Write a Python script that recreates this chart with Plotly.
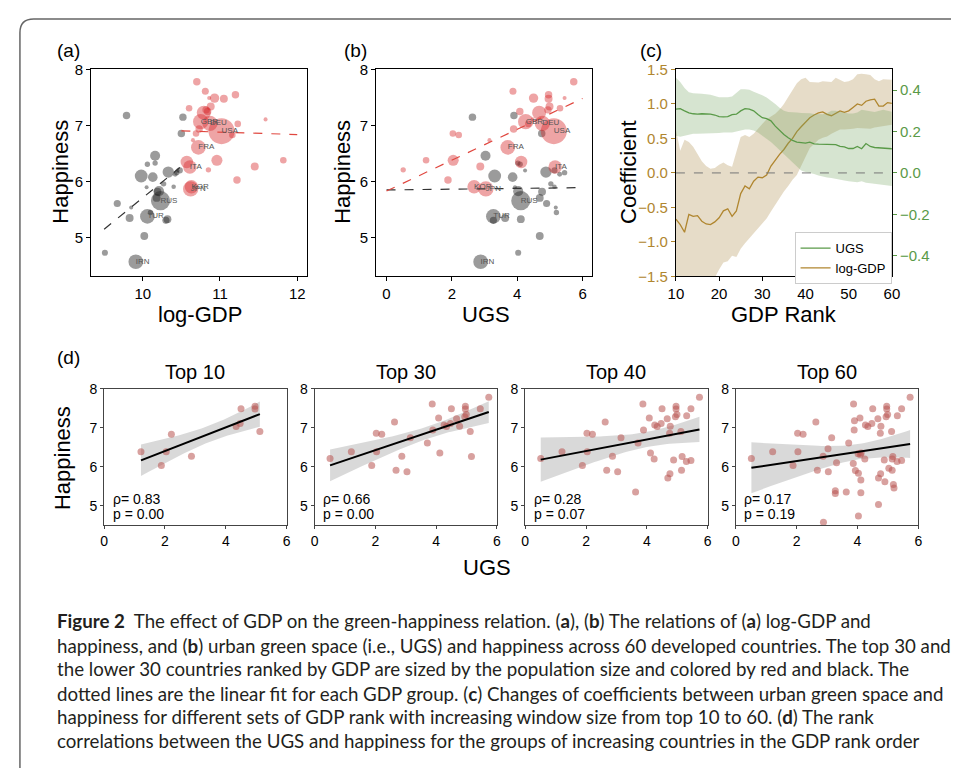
import numpy as np
import plotly.graph_objects as go

# The page adds an 8px body margin, so the figure is drawn 16px smaller and offset by 8px.
PAGE_W, PAGE_H = 959, 776
OFF = 8
W, H = PAGE_W - 2 * OFF, PAGE_H - 2 * OFF

# ---------------- data: 60 countries listed in GDP-rank order ----------------
ugs = [1.21, 4.47, 2.87, 4.34, 1.88, 4.96, 2.21, 4.96, 5.12, 2.04, 4.50,
       4.99, 4.77, 5.45, 0.51, 4.08, 4.94, 3.87, 4.67, 4.26, 3.89, 3.71, 5.73, 2.03, 3.15,
       2.68, 3.04, 5.16, 4.12, 2.63,
       5.31, 4.75, 3.63, 4.24, 4.69, 4.76, 4.88, 5.14, 5.30, 5.45,
       2.88, 3.03, 3.27, 3.27, 3.31, 3.86, 3.90, 3.93, 4.03, 4.03, 4.09, 4.11, 4.11, 4.69,
       4.90, 5.03, 5.14, 5.18, 5.20, 4.02]
happiness = [6.38, 7.11, 6.27, 7.03, 6.03, 7.55, 6.83, 7.48, 6.90, 6.38, 7.49,
             7.34, 7.04, 7.49, 6.21, 7.25, 7.28, 7.61, 7.23, 7.07, 6.94, 6.61, 7.78, 6.86, 6.74,
             5.91, 5.87, 6.26, 6.35, 7.15,
             7.31, 6.86, 5.35, 6.20, 5.71, 5.82, 6.17, 5.91, 6.13, 6.16,
             4.57, 6.46, 5.38, 5.31, 6.10, 6.08, 7.18, 5.90, 5.83, 4.73, 6.31, 5.66, 5.33, 5.03,
             5.61, 5.96, 6.20, 5.54, 5.45, 6.33]
log_gdp = [11.82, 11.59, 11.45, 11.23, 11.22, 11.20, 11.16, 11.05, 11.02, 10.96, 10.93,
           10.88, 10.87, 10.86, 10.85, 10.84, 10.82, 10.81, 10.79, 10.75, 10.73, 10.72, 10.70, 10.69, 10.65,
           10.63, 10.62, 10.61, 10.57, 10.52,
           10.60, 10.50, 9.83, 10.45, 10.18, 10.19, 10.33, 10.40, 10.42, 10.44,
           9.91, 10.16, 10.06, 10.30, 9.98, 10.13, 9.79, 10.05, 10.21, 9.51, 10.06, 10.23, 10.32, 10.02,
           9.67, 10.27, 10.48, 9.85, 10.10, 10.16]
population = [21, 8, 31, 21, 27, 27, 21, 31, 330, 60, 43,
              31, 115, 8, 14, 27, 27, 24, 96, 115, 27, 105, 27, 21, 8,
              88, 115, 88, 75, 27,
              21, 27, 31, 6, 30, 30, 63, 10, 12, 14,
              105, 49, 105, 25, 80, 45, 27, 6, 50, 18, 14, 180, 30, 30,
              25, 14, 18, 6, 14, 14]
group = (["top"] * 29 + ["low"] + ["top"] + ["low"] * 29)
code = [""] * 60
for i, c in {8: "USA", 12: "DEU", 19: "GBR", 21: "FRA", 25: "KOR", 26: "JPN",
             27: "ITA", 40: "IRN", 42: "TUR", 51: "RUS"}.items():
    code[i] = c

# ---------------- panel (c): coefficients vs window size ----------------
gdp_rank = list(range(10, 61))
coef_gdp = [-0.67, -0.75, -0.86, -0.60, -0.63, -0.62, -0.70, -0.74, -0.75, -0.71,
            -0.65, -0.55, -0.52, -0.63, -0.55, -0.30, -0.19, -0.23, -0.12, -0.06,
            -0.07, -0.03, 0.10, 0.19, 0.27, 0.34, 0.43, 0.50, 0.60, 0.67,
            0.74, 0.80, 0.84, 0.87, 0.885, 0.85, 0.83, 0.86, 0.90, 0.88,
            0.90, 0.95, 1.00, 0.98, 1.04, 1.06, 1.07, 0.97, 0.97, 1.02, 1.01]
coef_gdp_hi = [0.63, 0.32, 0.48, 0.45, 0.38, 0.27, 0.17, 0.10, 0.06, 0.07,
               0.12, 0.15, 0.11, 0.09, 0.30, 0.52, 0.55, 0.52, 0.57, 0.64,
               0.72, 0.78, 0.82, 0.86, 0.92, 1.00, 1.10, 1.20, 1.30, 1.36,
               1.38, 1.32, 1.32, 1.31, 1.33, 1.32, 1.32, 1.38, 1.35, 1.32,
               1.33, 1.36, 1.43, 1.44, 1.43, 1.42, 1.36, 1.33, 1.36, 1.36, 1.35]
coef_gdp_lo = [-2.0, -2.0, -2.0, -2.0, -2.0, -2.0, -2.0, -2.0, -1.75, -1.52,
               -1.40, -1.30, -1.28, -1.20, -1.22, -1.10, -1.02, -0.95, -0.88, -0.80,
               -0.74, -0.66, -0.56, -0.46, -0.36, -0.27, -0.19, -0.10, -0.03, 0.10,
               0.24, 0.36, 0.42, 0.48, 0.51, 0.53, 0.57, 0.60, 0.63, 0.63,
               0.63, 0.64, 0.65, 0.65, 0.64, 0.64, 0.66, 0.67, 0.68, 0.69, 0.70]
coef_ugs = [0.308, 0.311, 0.300, 0.290, 0.286, 0.284, 0.286, 0.286, 0.284, 0.280,
            0.272, 0.271, 0.272, 0.282, 0.284, 0.300, 0.311, 0.308, 0.300, 0.282,
            0.267, 0.262, 0.252, 0.226, 0.204, 0.186, 0.170, 0.157, 0.149, 0.146,
            0.144, 0.149, 0.140, 0.139, 0.139, 0.139, 0.139, 0.137, 0.128, 0.126,
            0.118, 0.118, 0.128, 0.117, 0.142, 0.128, 0.123, 0.121, 0.119, 0.117, 0.117]
coef_ugs_hi = [0.46, 0.44, 0.41, 0.39, 0.385, 0.385, 0.383, 0.38, 0.378, 0.372,
               0.366, 0.366, 0.366, 0.37, 0.39, 0.405, 0.405, 0.402, 0.392, 0.385,
               0.375, 0.365, 0.35, 0.333, 0.315, 0.30, 0.295, 0.292, 0.292, 0.29,
               0.29, 0.288, 0.285, 0.284, 0.284, 0.29, 0.30, 0.30, 0.296, 0.29,
               0.287, 0.287, 0.292, 0.305, 0.303, 0.298, 0.295, 0.30, 0.305, 0.30, 0.296]
coef_ugs_lo = [0.18, 0.175, 0.18, 0.185, 0.19, 0.19, 0.19, 0.19, 0.19, 0.192,
               0.193, 0.195, 0.195, 0.196, 0.20, 0.205, 0.21, 0.21, 0.205, 0.195,
               0.18, 0.165, 0.15, 0.13, 0.11, 0.09, 0.07, 0.05, 0.03, 0.012,
               0.004, 0.0, -0.005, -0.012, -0.018, -0.022, -0.025, -0.03, -0.033, -0.037,
               -0.04, -0.042, -0.045, -0.04, -0.047, -0.05, -0.052, -0.055, -0.058, -0.06, -0.063]

# ---------------- panel (d) ----------------
d_titles = ["Top 10", "Top 30", "Top 40", "Top 60"]
d_counts = [11, 30, 40, 60]
d_rho = ["0.83", "0.66", "0.28", "0.17"]
d_p = ["0.00", "0.00", "0.07", "0.19"]
t_crit = {9: 2.262, 28: 2.048, 38: 2.024, 58: 2.002}

caption_lines = [
    "<b>Figure 2</b>  The effect of GDP on the green-happiness relation. (<b>a</b>), (<b>b</b>) The relations of (<b>a</b>) log-GDP and",
    "happiness, and (<b>b</b>) urban green space (i.e., UGS) and happiness across 60 developed countries. The top 30 and",
    "the lower 30 countries ranked by GDP are sized by the population size and colored by red and black. The",
    "dotted lines are the linear fit for each GDP group. (<b>c</b>) Changes of coefficients between urban green space and",
    "happiness for different sets of GDP rank with increasing window size from top 10 to 60. (<b>d</b>) The rank",
    "correlations between the UGS and happiness for the groups of increasing countries in the GDP rank order",
]

# ---------------- helpers (positions given in page pixels) ----------------
FONT = "Liberation Sans, Arial, sans-serif"
CAP_FONT = "Lato, Liberation Sans, sans-serif"


def px(x):
    return (x - OFF) / W


def py(y):
    return 1 - (y - OFF) / H


def hdom(x0, x1):
    return [px(x0), px(x1)]


def vdom(ytop, ybot):
    return [py(ybot), py(ytop)]


fig = go.Figure()

RED = "#d62728"
GRAY = "#222222"
max_pop = max(population)
sizeref = 2.0 * max_pop / (26.0 ** 2)

top_idx = [i for i in range(60) if group[i] == "top"]
low_idx = [i for i in range(60) if group[i] == "low"]

fit_ranges = {"a": {"low": (9.5, 10.48), "top": (10.5, 12.0)},
              "b": {"low": (0.0, 6.0), "top": (0.0, 6.0)}}

for panel, xvals, xa, ya in [("a", log_gdp, "x", "y"), ("b", ugs, "x2", "y2")]:
    for grp, idx, col, op in [("low", low_idx, GRAY, 0.45), ("top", top_idx, RED, 0.42)]:
        fig.add_trace(go.Scatter(
            x=[xvals[i] for i in idx], y=[happiness[i] for i in idx],
            mode="markers", xaxis=xa, yaxis=ya, showlegend=False,
            marker=dict(size=[population[i] for i in idx], sizemode="area", sizeref=sizeref,
                        sizemin=2, color=col, opacity=op, line=dict(width=0))))
    for grp, idx, col in [("low", low_idx, "#333333"), ("top", top_idx, "#e0473f")]:
        xs = np.array([xvals[i] for i in idx])
        ys = np.array([happiness[i] for i in idx])
        slope, icpt = np.polyfit(xs, ys, 1)
        r0, r1 = fit_ranges[panel][grp]
        xl = np.array([r0, r1])
        fig.add_trace(go.Scatter(x=xl, y=icpt + slope * xl, mode="lines", xaxis=xa, yaxis=ya,
                                 showlegend=False, line=dict(color=col, width=1.2, dash="dash")))
    fig.add_trace(go.Scatter(x=xvals, y=happiness, text=code, mode="text", xaxis=xa, yaxis=ya,
                             textposition="middle right", showlegend=False,
                             textfont=dict(size=8, color="#555555", family=FONT)))

# ---------------- panel (c) ----------------
BROWN = "#b0862f"
GREEN = "#5a9a48"
fig.add_trace(go.Scatter(x=gdp_rank, y=coef_ugs_lo, mode="lines", line=dict(width=0),
                         xaxis="x3", yaxis="y4", showlegend=False, hoverinfo="skip"))
fig.add_trace(go.Scatter(x=gdp_rank, y=coef_ugs_hi, mode="lines", line=dict(width=0),
                         fill="tonexty", fillcolor="rgba(118,165,98,0.30)",
                         xaxis="x3", yaxis="y4", showlegend=False, hoverinfo="skip"))
fig.add_trace(go.Scatter(x=gdp_rank, y=coef_ugs, mode="lines", name="UGS",
                         line=dict(color=GREEN, width=1.3), xaxis="x3", yaxis="y4"))
fig.add_trace(go.Scatter(x=gdp_rank, y=coef_gdp_lo, mode="lines", line=dict(width=0),
                         xaxis="x3", yaxis="y3", showlegend=False, hoverinfo="skip"))
fig.add_trace(go.Scatter(x=gdp_rank, y=coef_gdp_hi, mode="lines", line=dict(width=0),
                         fill="tonexty", fillcolor="rgba(184,155,98,0.35)",
                         xaxis="x3", yaxis="y3", showlegend=False, hoverinfo="skip"))
fig.add_trace(go.Scatter(x=gdp_rank, y=coef_gdp, mode="lines", name="log-GDP",
                         line=dict(color=BROWN, width=1.3), xaxis="x3", yaxis="y3"))

# ---------------- panel (d) ----------------
d_left = [97.7, 311.7, 526.0, 740.3]
d_w = 185.6
for k in range(4):
    n = d_counts[k]
    xa = "x%d" % (5 + k)
    ya = "y%d" % (5 + k)
    xs = np.array(ugs[:n])
    ys = np.array(happiness[:n])
    slope, icpt = np.polyfit(xs, ys, 1)
    xg = np.linspace(xs.min(), xs.max(), 60)
    yhat = icpt + slope * xg
    resid = ys - (icpt + slope * xs)
    s = np.sqrt(np.sum(resid ** 2) / (n - 2))
    sxx = np.sum((xs - xs.mean()) ** 2)
    half = t_crit[n - 2] * s * np.sqrt(1.0 / n + (xg - xs.mean()) ** 2 / sxx)
    fig.add_trace(go.Scatter(x=np.concatenate([xg, xg[::-1]]),
                             y=np.concatenate([yhat + half, (yhat - half)[::-1]]),
                             fill="toself", fillcolor="rgba(0,0,0,0.15)", line=dict(width=0),
                             mode="lines", xaxis=xa, yaxis=ya, showlegend=False, hoverinfo="skip"))
    fig.add_trace(go.Scatter(x=xs, y=ys, mode="markers", xaxis=xa, yaxis=ya, showlegend=False,
                             marker=dict(size=7, color="#b85450", opacity=0.55, line=dict(width=0))))
    fig.add_trace(go.Scatter(x=xg, y=yhat, mode="lines", xaxis=xa, yaxis=ya, showlegend=False,
                             line=dict(color="black", width=2)))

# ---------------- axes ----------------
base = dict(showline=True, linecolor="black", linewidth=1, mirror=True, ticks="outside",
            ticklen=4, tickwidth=1, tickcolor="black", showgrid=False, zeroline=False,
            tickfont=dict(size=15, color="black", family=FONT))
ytop, ybot = 61.7, 273.3
lay = dict(
    xaxis=dict(base, domain=hdom(84.3, 304.3), range=[9.33, 12.13], tickvals=[10, 11, 12], anchor="y"),
    yaxis=dict(base, domain=vdom(ytop, ybot), range=[4.31, 8.0], tickvals=[5, 6, 7, 8], anchor="x"),
    xaxis2=dict(base, domain=hdom(374.3, 594.3), range=[-0.32, 6.3], tickvals=[0, 2, 4, 6], anchor="y2"),
    yaxis2=dict(base, domain=vdom(ytop, ybot), range=[4.31, 8.0], tickvals=[5, 6, 7, 8], anchor="x2"),
    xaxis3=dict(base, domain=hdom(679.3, 899.0), range=[10, 60], tickvals=[10, 20, 30, 40, 50, 60],
                anchor="y3"),
    yaxis3=dict(base, domain=vdom(ytop, ybot), range=[-1.5, 1.5], mirror=False,
                tickvals=[-1.5, -1.0, -0.5, 0, 0.5, 1.0, 1.5], tickformat=".1f", tickcolor=BROWN,
                tickfont=dict(size=15, color=BROWN, family=FONT), anchor="x3"),
    yaxis4=dict(base, overlaying="y3", side="right", range=[-0.5, 0.5], mirror=False,
                tickvals=[-0.4, -0.2, 0, 0.2, 0.4], tickformat=".1f", tickcolor=GREEN,
                tickfont=dict(size=15, color=GREEN, family=FONT), anchor="x3"),
)
dbase = dict(base, linecolor="#444444", tickcolor="#444444", ticklen=3,
             tickfont=dict(size=14, color="black", family=FONT))
for k in range(4):
    lay["xaxis%d" % (5 + k)] = dict(dbase, domain=hdom(d_left[k], d_left[k] + d_w), range=[0, 6],
                                    tickvals=[0, 2, 4, 6], anchor="y%d" % (5 + k))
    lay["yaxis%d" % (5 + k)] = dict(dbase, domain=vdom(388.3, 527.7), range=[4.5, 8],
                                    tickvals=[5, 6, 7, 8], anchor="x%d" % (5 + k))

# ---------------- annotations ----------------
ann = []


def text(x, y, s, size, angle=0, xanchor="center", color="black", family=FONT):
    ann.append(dict(x=px(x), y=py(y), xref="paper", yref="paper", text=s, showarrow=False,
                    textangle=angle, xanchor=xanchor, yanchor="middle",
                    font=dict(size=size, color=color, family=family)))


text(48, 42, "(a)", 19, xanchor="left")
text(340, 42, "(b)", 19, xanchor="left")
text(641, 42, "(c)", 19, xanchor="left")
text(48, 356, "(d)", 19, xanchor="left")
text(53, 166, "Happiness", 22, angle=-90)
text(340, 166, "Happiness", 22, angle=-90)
text(631, 166, "Coefficient", 22, angle=-90)
text(195, 312, "log-GDP", 22)
text(486, 312, "UGS", 22)
text(789, 312, "GDP Rank", 22)
text(56, 459, "Happiness", 22, angle=-90)
text(487, 571, "UGS", 22)
for k in range(4):
    text(d_left[k] + d_w / 2, 371, d_titles[k], 20)
    text(d_left[k] + 6.5, 501.5, "\u03c1= " + d_rho[k], 14, xanchor="left")
    text(d_left[k] + 6.5, 516, "p = " + d_p[k], 14, xanchor="left")

cap_y = [626, 651, 675, 700, 724, 749]
for s, yy in zip(caption_lines, cap_y):
    text(48, yy, s, 18.7, xanchor="left", color="#231f20", family=CAP_FONT)

shapes = [
    dict(type="line", xref="x3", yref="y3", x0=10, x1=60, y0=0, y1=0,
         line=dict(color="#777777", width=1, dash="dash")),
    dict(type="path", xref="paper", yref="paper",
         path="M %f,%f L %f,%f Q %f,%f %f,%f L %f,%f" % (
             px(12), py(800), px(12), py(24), px(12), py(10), px(26), py(10), px(990), py(10)),
         line=dict(color="#666666", width=1.5)),
]

fig.update_layout(
    width=W, height=H, margin=dict(l=0, r=0, t=0, b=0),
    paper_bgcolor="white", plot_bgcolor="rgba(0,0,0,0)",
    font=dict(family=FONT, color="black"),
    annotations=ann, shapes=shapes,
    legend=dict(x=px(800), y=py(228), xanchor="left", yanchor="top", traceorder="normal",
                bgcolor="white", bordercolor="#cccccc", borderwidth=1,
                font=dict(size=13, family=FONT), tracegroupgap=0, itemwidth=30),
    **lay,
)

fig.write_html("out.html", config={"displayModeBar": False})
